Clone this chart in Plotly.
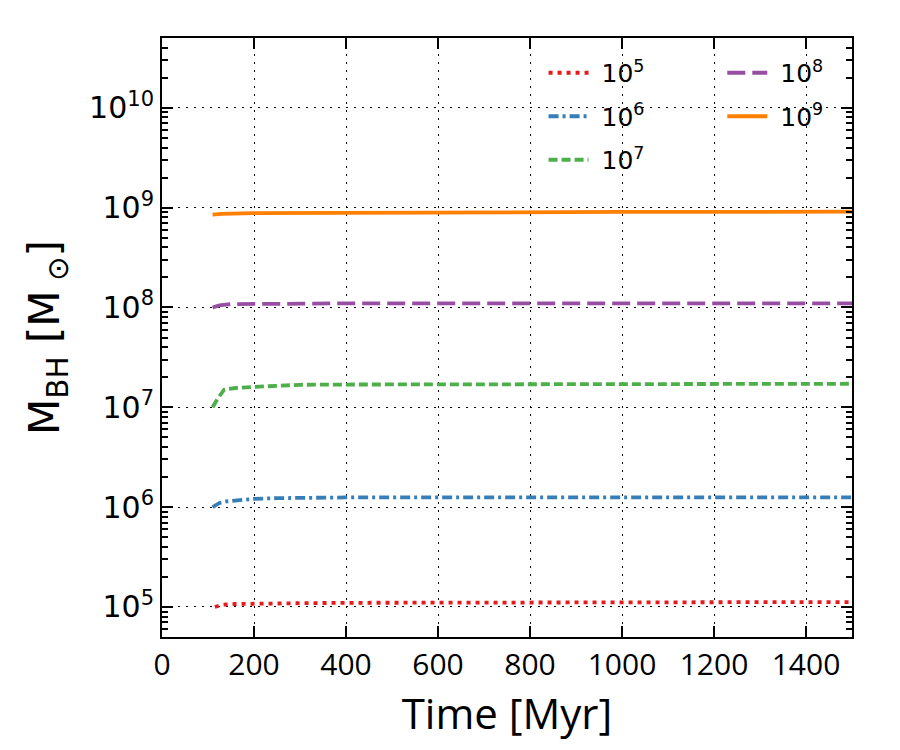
import plotly.graph_objects as go
import numpy as np

# Data
t_1e5 = [115, 130, 160, 200, 300, 400, 600, 800, 1000, 1200, 1500]
m_1e5 = [1.0e5, 1.05e5, 1.07e5, 1.08e5, 1.09e5, 1.1e5, 1.1e5, 1.11e5, 1.11e5, 1.12e5, 1.12e5]

t_1e6 = [110, 125, 140, 170, 200, 250, 300, 400, 600, 800, 1000, 1200, 1500]
m_1e6 = [1.0e6, 1.1e6, 1.14e6, 1.18e6, 1.21e6, 1.23e6, 1.24e6, 1.25e6, 1.25e6, 1.25e6, 1.25e6, 1.25e6, 1.25e6]

t_1e7 = [110, 120, 135, 160, 200, 250, 300, 400, 600, 800, 1000, 1200, 1500]
m_1e7 = [1.0e7, 1.2e7, 1.5e7, 1.56e7, 1.6e7, 1.65e7, 1.68e7, 1.69e7, 1.7e7, 1.7e7, 1.71e7, 1.71e7, 1.72e7]

t_1e8 = [110, 125, 150, 200, 300, 400, 600, 800, 1000, 1200, 1500]
m_1e8 = [1.0e8, 1.05e8, 1.08e8, 1.09e8, 1.09e8, 1.1e8, 1.1e8, 1.1e8, 1.1e8, 1.1e8, 1.1e8]

t_1e9 = [110, 130, 200, 300, 400, 600, 800, 1000, 1200, 1500]
m_1e9 = [8.5e8, 8.65e8, 8.8e8, 8.85e8, 8.9e8, 8.95e8, 9.0e8, 9.05e8, 9.05e8, 9.1e8]

series = [
    ("\u00a010<sup>5</sup>", t_1e5, m_1e5, "#e41a1c", "4px,5px", "legend"),
    ("\u00a010<sup>6</sup>", t_1e6, m_1e6, "#377eb8", "10px,4px,3px,4px", "legend"),
    ("\u00a010<sup>7</sup>", t_1e7, m_1e7, "#4daf4a", "9px,4px", "legend"),
    ("\u00a010<sup>8</sup>", t_1e8, m_1e8, "#984ea3", "18px,7px", "legend2"),
    ("\u00a010<sup>9</sup>", t_1e9, m_1e9, "#ff7f00", "solid", "legend2"),
]

x_ticks = [0, 200, 400, 600, 800, 1000, 1200, 1400]
y_ticks = [1e5, 1e6, 1e7, 1e8, 1e9, 1e10]
y_ticktext = ["10<sup>%d</sup>" % int(round(np.log10(v))) for v in y_ticks]

fig = go.Figure()
for i, (name, t, m, col, dash, lg) in enumerate(series):
    fig.add_trace(go.Scatter(x=t, y=m, mode="lines", name=name,
                             line=dict(color=col, width=3.8, dash=dash),
                             legend=lg, legendgroup="g%d" % i))

minor_vals = [k * 10 ** e for e in range(4, 11) for k in range(2, 10)]

axis_common = dict(
    showline=True, linecolor="black", linewidth=2, mirror="allticks",
    ticks="inside", tickcolor="black", tickwidth=2, ticklen=11,
    showgrid=True, gridcolor="black", griddash="2px,6px", gridwidth=1.2,
    zeroline=False,
)

fig.update_xaxes(
    range=[0, 1500], tickvals=x_ticks,
    tickfont=dict(family="Open Sans", size=30, color="black"),
    title=dict(text="Time [Myr]", font=dict(family="Open Sans", size=42, color="black"), standoff=0),
    **axis_common,
)
fig.update_yaxes(
    type="log", range=[np.log10(5e4), np.log10(5e10)],
    tickvals=y_ticks, ticktext=y_ticktext,
    tickfont=dict(family="DejaVu Sans", size=30, color="black"),
    title=dict(text="M<sub>BH</sub> [M<sub> ⊙</sub>]", font=dict(family="DejaVu Sans", size=42, color="black"), standoff=16),
    minor=dict(tickvals=minor_vals, ticks="inside", ticklen=6, tickwidth=1.5, tickcolor="black", showgrid=False),
    **axis_common,
)

legend_common = dict(
    bgcolor="rgba(0,0,0,0)", borderwidth=0,
    font=dict(family="DejaVu Sans", size=25, color="black"),
    yanchor="top", xanchor="left", tracegroupgap=8, itemwidth=40,
)
fig.update_layout(
    width=900, height=750,
    margin=dict(l=162, r=48, t=38, b=113),
    plot_bgcolor="white", paper_bgcolor="white",
    legend=dict(x=0.553, y=0.98, **legend_common),
    legend2=dict(x=0.812, y=0.98, **legend_common),
)

fig.write_html("out.html")
